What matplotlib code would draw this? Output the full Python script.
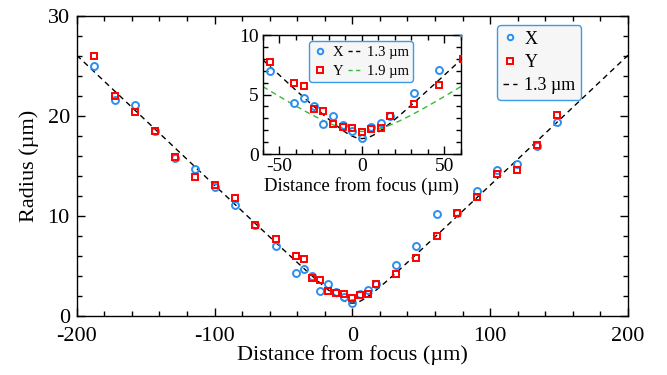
import numpy as np
import matplotlib
matplotlib.use('Agg')
import matplotlib.pyplot as plt
from matplotlib.ticker import MultipleLocator
from matplotlib.lines import Line2D

plt.rcParams['font.family'] = ['Liberation Serif', 'DejaVu Serif']
plt.rcParams['axes.unicode_minus'] = False

# measured beam radius vs distance from focus
z = [-187.6, -172.4, -157.6, -143.3, -128.7, -114.2, -99.6, -85.3, -70.5, -55.5,
     -40.9, -35.0, -29.2, -23.4, -17.5, -11.6, -5.8, 0.0, 5.8, 11.5,
     17.3, 31.6, 46.5, 61.2, 75.9, 90.4, 105.0, 119.5, 134.0, 148.6]
rx = [25.0, 21.6, 21.1, 18.5, 15.8, 14.7, 12.9, 11.1, 9.1, 7.0,
      4.3, 4.7, 4.0, 2.5, 3.2, 2.4, 1.9, 1.35, 2.25, 2.6,
      3.2, 5.15, 7.05, 10.2, 10.3, 12.5, 14.6, 15.2, 17.0, 19.4]
ry = [26.0, 22.0, 20.4, 18.5, 15.9, 13.9, 13.1, 11.8, 9.1, 7.7,
      6.0, 5.7, 3.8, 3.6, 2.5, 2.3, 2.2, 1.85, 2.1, 2.2,
      3.2, 4.2, 5.8, 8.0, 10.3, 11.9, 14.2, 14.6, 17.1, 20.1]

# gaussian beam fits: waist radius (um), wavelength (um)
w0_fit = [1.3, 1.9]
wavelength = 0.532

blue = '#2b8ff0'
red = '#ff0000'
edge = '#3d9be6'


def beam(zz, w0):
    zr = np.pi * w0 ** 2 / wavelength
    return w0 * np.sqrt(1 + (zz / zr) ** 2)


def style(ax, fs, xpad, ypad):
    ax.tick_params(which='both', direction='in', top=True, right=True,
                   labelsize=fs)
    ax.tick_params(axis='x', pad=xpad)
    ax.tick_params(axis='y', pad=ypad)
    ax.tick_params(which='major', length=6, width=1)
    ax.tick_params(which='minor', length=3.5, width=1)
    for s in ax.spines.values():
        s.set_linewidth(1)


def frame(leg):
    f = leg.get_frame()
    f.set_edgecolor(edge)
    f.set_facecolor('#f6f6f6')
    f.set_linewidth(1)


fig = plt.figure(figsize=(6.67, 3.75), dpi=100)
ax = fig.add_axes([0.115, 0.157, 0.8265, 0.8])

zz = np.linspace(-200, 200, 801)
ax.plot(z, rx, 'o', ms=5, mfc='none', mec=blue, mew=1.4, label='X', zorder=3)
ax.plot(z, ry, 's', ms=5, mfc='none', mec=red, mew=1.4, label='Y', zorder=4)
ax.plot(zz, beam(zz, w0_fit[0]), '--', color='k', lw=1, dashes=(4, 3),
        label='1.3 µm')
ax.set_xlim(-200, 200)
ax.set_ylim(0, 30)
ax.xaxis.set_major_locator(MultipleLocator(100))
ax.xaxis.set_minor_locator(MultipleLocator(20))
ax.yaxis.set_major_locator(MultipleLocator(10))
ax.yaxis.set_minor_locator(MultipleLocator(2))
style(ax, 16, 8, 5)
ax.set_xlabel('Distance from focus (µm)', fontsize=16, labelpad=-1)
ax.set_ylabel('Radius (µm)', fontsize=16, labelpad=6)
leg = ax.legend(loc='upper right', bbox_to_anchor=(0.915, 0.97), fontsize=13,
                handlelength=0.8, handletextpad=0.4, borderpad=0.3,
                borderaxespad=0, labelspacing=0.35, fancybox=True,
                framealpha=1, markerscale=0.8)
frame(leg)

# inset
ins = fig.add_axes([0.394, 0.5893, 0.297, 0.317])
zi = np.linspace(-60, 60, 301)
ins.plot(z, rx, 'o', ms=5, mfc='none', mec=blue, mew=1.4, zorder=3)
ins.plot(z, ry, 's', ms=5, mfc='none', mec=red, mew=1.4, zorder=4)
ins.plot(zi, beam(zi, w0_fit[0]), color='k', lw=1, dashes=(4, 3))
ins.plot(zi, beam(zi, w0_fit[1]), color='#33bb33', lw=1, dashes=(4, 3))
ins.set_xlim(-60, 60)
ins.set_ylim(0, 10)
ins.xaxis.set_major_locator(MultipleLocator(50))
ins.xaxis.set_minor_locator(MultipleLocator(10))
ins.yaxis.set_major_locator(MultipleLocator(5))
ins.yaxis.set_minor_locator(MultipleLocator(1))
style(ins, 14, 3, 3)
ins.set_xlabel('Distance from focus (µm)', fontsize=13.5, labelpad=1)

handles = [Line2D([], [], ls='none', marker='o', ms=4, mfc='none', mec=blue, mew=1.4),
           Line2D([], [], ls='none', marker='s', ms=4, mfc='none', mec=red, mew=1.4),
           Line2D([], [], color='k', lw=1, dashes=(3, 2.5)),
           Line2D([], [], color='#33bb33', lw=1, dashes=(3, 2.5))]
ileg = ins.legend(handles, ['X', 'Y', '1.3 µm', '1.9 µm'], ncol=2,
                  loc='upper left', bbox_to_anchor=(0.235, 0.95), fontsize=10.5,
                  handlelength=0.9, handletextpad=0.4, columnspacing=0.3,
                  borderpad=0.3, borderaxespad=0, labelspacing=0.4,
                  fancybox=True, framealpha=1)
frame(ileg)

fig.savefig('out.png', dpi=100)
